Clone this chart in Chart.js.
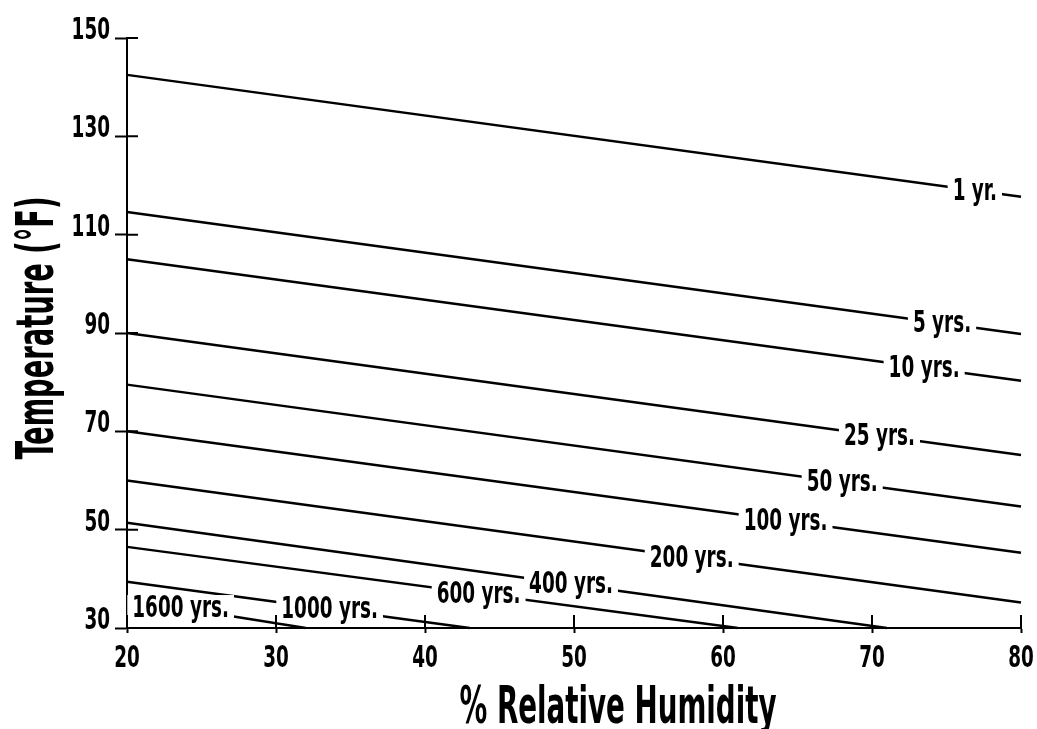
<!DOCTYPE html>
<html>
<head>
<meta charset="utf-8">
<script src="https://cdn.jsdelivr.net/npm/chart.js@4"></script>
<style>
    body { margin: 0; background: #fff; }
    #wrap { width: 1037px; height: 729px; position: relative; }
</style>
</head>
<body>
<div id="wrap"><canvas id="chart"></canvas></div>
<script>
// life expectancy lines: temperature vs relative humidity
let lifeLabels = ['1 yr.', '5 yrs.', '10 yrs.', '25 yrs.', '50 yrs.', '100 yrs.', '200 yrs.', '400 yrs.', '600 yrs.', '1000 yrs.', '1600 yrs.'];
let startRH = [20, 20, 20, 20, 20, 20, 20, 20, 20, 20, 20];
let endRH = [80, 80, 80, 80, 80, 80, 80, 71, 61, 43, 32];
let startTemp = [142.5, 114.6, 105, 90, 79.5, 70, 60, 51.4, 46.5, 39.4, 35.8];
let endTemp = [117.7, 89.8, 80.3, 65.2, 54.7, 45.3, 35.2, 30, 30, 30, 30];
let labelRH = [76.9, 74.7, 73.5, 70.5, 68.0, 64.2, 57.9, 49.8, 43.6, 33.6, 23.6];

let xTicks = [20, 30, 40, 50, 60, 70, 80];
let yTicks = [30, 50, 70, 90, 110, 130, 150];

const FONT = "'Liberation Sans Narrow', 'DejaVu Sans Condensed', 'DejaVu Sans', sans-serif";
const SQUEEZE = 0.66;

let datasets = lifeLabels.map((name, i) => ({
    label: name,
    data: [
        { x: startRH[i], y: startTemp[i] },
        { x: endRH[i], y: endTemp[i] }
    ],
    borderColor: '#000',
    borderWidth: 2.5,
    pointRadius: 0,
    tension: 0,
    clip: false
}));

// draws text squeezed horizontally (the original uses a very condensed face)
function squeezed(ctx, text, x, y, sx, align) {
    let w = ctx.measureText(text).width * sx;
    let left = align === 'center' ? x - w / 2 : align === 'right' ? x - w : x;
    ctx.save();
    ctx.translate(left, y);
    ctx.scale(sx, 1);
    ctx.textAlign = 'left';
    ctx.fillText(text, 0, 0);
    ctx.restore();
    return w;
}

// white-backed labels sitting on each line
const lineLabels = {
    id: 'lineLabels',
    afterDatasetsDraw(chart) {
        let ctx = chart.ctx;
        let xs = chart.scales.x, ys = chart.scales.y;
        ctx.save();
        ctx.font = 'bold 31px ' + FONT;
        ctx.textBaseline = 'middle';
        lifeLabels.forEach((name, i) => {
            let rh = labelRH[i];
            let t = startTemp[i] + (endTemp[i] - startTemp[i]) * (rh - startRH[i]) / (endRH[i] - startRH[i]);
            let px = xs.getPixelForValue(rh);
            let py = ys.getPixelForValue(t);
            let w = ctx.measureText(name).width * SQUEEZE;
            ctx.fillStyle = '#fff';
            ctx.fillRect(px - w / 2 - 5, py - 13, w + 10, 26);
            ctx.fillStyle = '#000';
            squeezed(ctx, name, px, py + 1, SQUEEZE, 'center');
        });
        ctx.restore();
    }
};

// tick marks crossing into the plot, tick labels and axis titles
const axisExtras = {
    id: 'axisExtras',
    afterDraw(chart) {
        let ctx = chart.ctx;
        let area = chart.chartArea;
        let xs = chart.scales.x, ys = chart.scales.y;
        ctx.save();
        ctx.strokeStyle = '#000';
        ctx.lineWidth = 2;
        ctx.beginPath();
        ys.ticks.forEach(t => {
            let p = ys.getPixelForValue(t.value);
            ctx.moveTo(area.left, p);
            ctx.lineTo(area.left + 11, p);
        });
        xs.ticks.forEach(t => {
            let p = xs.getPixelForValue(t.value);
            ctx.moveTo(p, area.bottom);
            ctx.lineTo(p, area.bottom - 13);
        });
        ctx.stroke();

        ctx.fillStyle = '#000';
        ctx.textBaseline = 'alphabetic';
        ctx.font = 'bold 31px ' + FONT;
        xs.ticks.forEach(t => {
            squeezed(ctx, String(t.value), xs.getPixelForValue(t.value), area.bottom + 39, SQUEEZE, 'center');
        });
        ys.ticks.forEach(t => {
            squeezed(ctx, String(t.value), area.left - 17, ys.getPixelForValue(t.value) + 1, SQUEEZE, 'right');
        });

        ctx.font = 'bold 52px ' + FONT;
        let xTitle = '% Relative Humidity';
        squeezed(ctx, xTitle, (area.left + area.right) / 2 + 44, area.bottom + 95,
            317 / ctx.measureText(xTitle).width, 'center');

        let yTitle = 'Temperature (°F)';
        ctx.translate(area.left - 74, (area.top + area.bottom) / 2 - 5);
        ctx.rotate(-Math.PI / 2);
        squeezed(ctx, yTitle, 0, 0, 263 / ctx.measureText(yTitle).width, 'center');
        ctx.restore();
    }
};

new Chart(document.getElementById('chart').getContext('2d'), {
    type: 'line',
    data: { datasets: datasets },
    options: {
        responsive: true,
        maintainAspectRatio: false,
        animation: false,
        layout: { padding: { top: 38, right: 16, left: 0, bottom: 0 } },
        plugins: {
            legend: { display: false },
            tooltip: { enabled: false }
        },
        scales: {
            x: {
                type: 'linear',
                min: 20,
                max: 80,
                afterFit: s => { s.height = 101; },
                afterBuildTicks: s => { s.ticks = xTicks.map(v => ({ value: v })); },
                ticks: { display: false },
                grid: { drawOnChartArea: false, tickLength: 5, tickColor: '#000', tickWidth: 2 },
                border: { color: '#000', width: 2 }
            },
            y: {
                min: 30,
                max: 150,
                afterFit: s => { s.width = 127; },
                afterBuildTicks: s => { s.ticks = yTicks.map(v => ({ value: v })); },
                ticks: { display: false },
                grid: { drawOnChartArea: false, tickLength: 12, tickColor: '#000', tickWidth: 2 },
                border: { color: '#000', width: 2 }
            }
        }
    },
    plugins: [lineLabels, axisExtras]
});
</script>
</body>
</html>
